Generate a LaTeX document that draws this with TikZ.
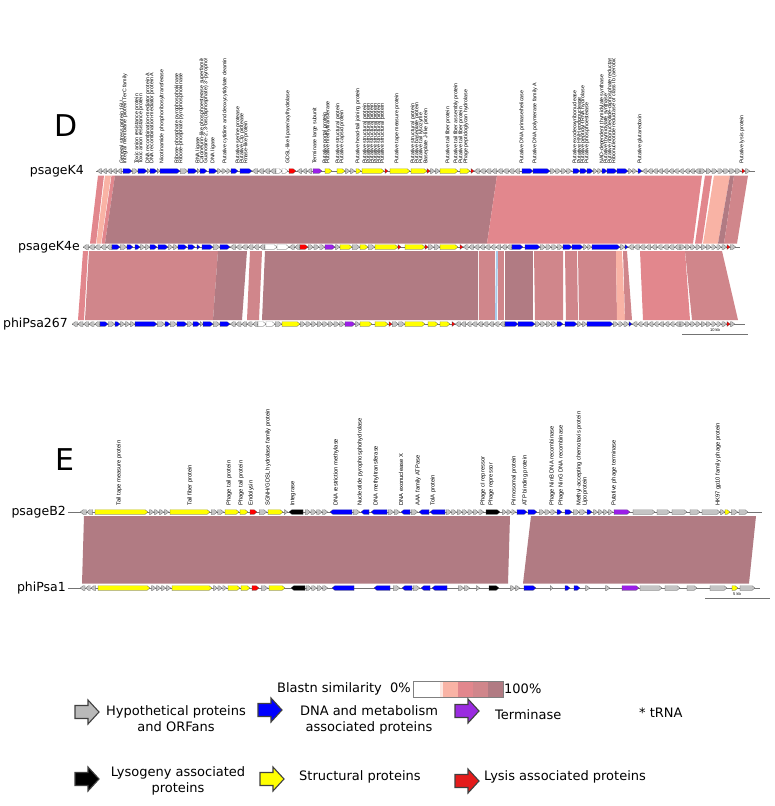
\documentclass[tikz,border=0pt]{standalone}
\usepackage{fontspec}
\setmainfont{DejaVu Sans}
\newfontfamily\genefont{Liberation Sans}
\usetikzlibrary{arrows.meta, positioning, calc}

\definecolor{GeneGrey}{HTML}{C4C4C4}
\definecolor{GeneBlue}{HTML}{0000FF}
\definecolor{GeneYellow}{HTML}{FFFF00}
\definecolor{GeneRed}{HTML}{FF0000}
\definecolor{GenePurple}{HTML}{9B1FE8}
\definecolor{GeneBlack}{HTML}{000000}
\definecolor{SimDark}{HTML}{B17B83}
\definecolor{SimRose}{HTML}{D0868B}
\definecolor{SimRed}{HTML}{E2878D}
\definecolor{SimSalmon}{HTML}{F9B3A5}
\definecolor{SimPale}{HTML}{FDE6E0}
\definecolor{SimBlue}{HTML}{A9CBEA}
\definecolor{LegGrey}{HTML}{B9B9B9}
\definecolor{LegPurple}{HTML}{9A2BE0}
\definecolor{LegRed}{HTML}{E41B1B}

\tikzset{
    genebox/.style={draw=black!70, line width=0.2pt},
    genelabel/.style={rotate=90, anchor=west, inner sep=0pt,
                      font=\genefont\fontsize{5.3}{6}\selectfont},
    genelabelE/.style={genelabel, font=\genefont\fontsize{5.8}{6}\selectfont},
    trackline/.style={draw=black!55, line width=0.4pt},
    tracklabel/.style={anchor=east, inner sep=0pt, font=\fontsize{12.5}{14}\selectfont},
    panelletter/.style={inner sep=0pt, font=\fontsize{30}{32}\selectfont},
    legendtext/.style={inner sep=0pt, align=center, font=\fontsize{13}{16}\selectfont},
    scaletext/.style={inner sep=0pt, font=\genefont\fontsize{4}{4}\selectfont}
}

% one gene arrow: start, end, track y, fill, r/l
\newcommand{\gene}[5]{%
    \if#5l
        \filldraw[genebox, fill=#4] ({#2},{#3-2.4}) -- ({min(#2,#1+3)},{#3-2.4}) -- ({#1},{#3})
            -- ({min(#2,#1+3)},{#3+2.4}) -- ({#2},{#3+2.4}) -- cycle;
    \else
        \filldraw[genebox, fill=#4] ({#1},{#3-2.4}) -- ({max(#1,#2-3)},{#3-2.4}) -- ({#2},{#3})
            -- ({max(#1,#2-3)},{#3+2.4}) -- ({#1},{#3+2.4}) -- cycle;
    \fi}

% run of small grey ORFs between two x values
\newcommand{\greyrun}[4]{%
    \pgfmathtruncatemacro{\nsmall}{max(1,round((#2-#1)/5.5))}%
    \pgfmathsetmacro{\wsmall}{(#2-#1)/\nsmall}%
    \foreach \k in {1,...,\nsmall}{%
        \gene{#1+(\k-1)*\wsmall+0.3}{#1+\k*\wsmall-0.3}{#3}{GeneGrey}{#4}}}

% legend block arrow: left x, centre y, fill
\newcommand{\legarrow}[3]{%
    \filldraw[draw=black!75, line width=1.1pt, fill=#3]
        ({#1},{#2-6.5}) -- ({#1+13},{#2-6.5}) -- ({#1+13},{#2-12}) -- ({#1+24},{#2})
        -- ({#1+13},{#2+12}) -- ({#1+13},{#2+6.5}) -- ({#1},{#2+6.5}) -- cycle;}

\begin{document}
\begin{tikzpicture}[x=1pt, y=-1pt]
    \useasboundingbox (0,0) rectangle (774,806);

    %%%%%%%%%%%%%%%% Panel D %%%%%%%%%%%%%%%%
    \node[panelletter] (letD) at (66,126) {D};

    % blastn bands psageK4 -> psageK4e
    \foreach \tl/\tr/\br/\bl/\c in {98/104/96/90/SimRed, 105/111/101/96.5/SimSalmon,
        111.5/115/105/101.5/SimRed, 115/497/487/105/SimDark, 497/702/693/487/SimRed,
        705/712/702/695/SimRed, 714/730/718/703/SimSalmon, 730/734/724/718/SimDark,
        734/748/737/724/SimRose}
        \fill[\c] (\tl,175.5) -- (\tr,175.5) -- (\br,243.5) -- (\bl,243.5) -- cycle;

    % blastn bands psageK4e -> phiPsa267
    \foreach \tl/\tr/\br/\bl/\c in {83/88/84/78/SimRed, 89/218/213/85/SimRose,
        218/247/242/213/SimDark, 250/262/259/247/SimRose, 265/478/478/262/SimDark,
        479/495/495/479/SimRose, 496/498/497/495/SimBlue, 498/504/504/498/SimRose,
        505/533/533/505/SimDark, 534/563/563/535/SimRose, 565/577/578/566/SimRose,
        578/616/617/579/SimRose, 616/622/625/617/SimSalmon, 623/627/632/625/SimRose,
        640/685/690/643/SimRed, 685/722/738/692/SimRose}
        \fill[\c] (\tl,251) -- (\tr,251) -- (\br,320) -- (\bl,320) -- cycle;

    % psageK4
    \node[tracklabel] (nK4) at (84,171) {psageK4};
    \draw[trackline] (96,171) -- (755,171);
    \foreach \a/\b/\d in {97/122/l, 132/138/r, 147/150/r, 157/160/r, 180/188/r, 197/200/r,
        217/231/r, 252/276/l, 297/312/l, 345/355/r, 430/440/r, 474/520/l, 550/572/r,
        593/602/r, 628/637/r, 642/700/l, 700/741/r, 745/750/r}
        \greyrun{\a}{\b}{171}{\d};
    \foreach \a/\b/\c/\d in {123/132/GeneBlue/r, 138/147/GeneBlue/r, 150/157/GeneBlue/r,
        160/180/GeneBlue/r, 188/197/GeneBlue/r, 200/207/GeneBlue/r, 209/217/GeneBlue/r,
        231/238/GeneBlue/r, 240/252/GeneBlue/r, 276/282/white/r, 282/288/white/r,
        289/296/GeneRed/r, 313/322/GenePurple/r, 325/332/GeneYellow/r, 337/345/GeneYellow/r,
        356/361/GeneYellow/r, 362/384/GeneYellow/r, 385/388/GeneRed/r, 390/410/GeneYellow/r,
        411/427/GeneYellow/r, 427/430/GeneRed/r, 440/458/GeneYellow/r, 460/470/GeneYellow/r,
        471/474/GeneRed/r, 522/533/GeneBlue/r, 533/550/GeneBlue/r, 573/580/GeneBlue/r,
        580/587/GeneBlue/r, 587/593/GeneBlue/r, 602/607/GeneBlue/r, 607/617/GeneBlue/r,
        617/628/GeneBlue/r, 638/642/GeneBlue/r, 742/745/GeneRed/r}
        \gene{\a}{\b}{171}{\c}{\d};

    % psageK4e
    \node[tracklabel] (nK4e) at (80,247) {psageK4e};
    \draw[trackline] (83,247) -- (740,247);
    \foreach \a/\b/\d in {83/112/l, 120/127/r, 140/150/r, 168/178/r, 213/220/r, 230/265/l,
        289/300/l, 308/325/r, 335/340/r, 352/360/r, 368/375/r, 428/440/r, 463/512/l,
        540/563/r, 583/592/r, 620/625/r, 628/680/l, 680/727/r, 730/736/r}
        \greyrun{\a}{\b}{247}{\d};
    \foreach \a/\b/\c/\d in {112/120/GeneBlue/r, 127/133/GeneBlue/r, 135/140/GeneBlue/r,
        150/157/GeneBlue/r, 158/168/GeneBlue/r, 178/187/GeneBlue/r, 188/195/GeneBlue/r,
        197/200/GeneBlue/r, 202/213/GeneBlue/r, 220/230/GeneBlue/r, 265/277/white/r,
        277/289/white/r, 300/308/GeneRed/r, 325/335/GenePurple/r, 340/352/GeneYellow/r,
        360/368/GeneYellow/r, 375/398/GeneYellow/r, 398/401/GeneRed/r, 405/425/GeneYellow/r,
        425/428/GeneRed/r, 440/458/GeneYellow/r, 460/463/GeneRed/r, 512/523/GeneBlue/r,
        525/540/GeneBlue/r, 563/572/GeneBlue/r, 572/583/GeneBlue/r, 592/620/GeneBlue/r,
        625/628/GeneBlue/r, 727/730/GeneRed/r}
        \gene{\a}{\b}{247}{\c}{\d};

    % phiPsa267
    \node[tracklabel] (nP267) at (68,324) {phiPsa267};
    \draw[trackline] (72,324) -- (745,324);
    \foreach \a/\b/\d in {72/100/l, 108/115/r, 120/135/r, 157/165/r, 170/177/r, 187/193/r,
        200/203/r, 213/220/r, 230/258/l, 275/282/r, 300/345/r, 355/360/r, 392/405/r,
        455/505/l, 535/557/r, 577/587/r, 613/629/r, 632/680/l, 680/727/r, 730/735/r}
        \greyrun{\a}{\b}{324}{\d};
    \foreach \a/\b/\c/\d in {100/108/GeneBlue/r, 115/120/GeneBlue/r, 135/157/GeneBlue/r,
        165/170/GeneBlue/r, 177/187/GeneBlue/r, 193/200/GeneBlue/r, 203/213/GeneBlue/r,
        220/230/GeneBlue/r, 258/266/white/r, 266/275/white/r, 282/300/GeneYellow/r,
        345/355/GenePurple/r, 360/372/GeneYellow/r, 375/388/GeneYellow/r, 389/392/GeneRed/r,
        405/425/GeneYellow/r, 428/438/GeneYellow/r, 440/450/GeneYellow/r, 452/455/GeneRed/r,
        505/518/GeneBlue/r, 518/535/GeneBlue/r, 557/563/GeneBlue/r, 565/577/GeneBlue/r,
        587/613/GeneBlue/r, 629/632/GeneBlue/r, 727/730/GeneRed/r}
        \gene{\a}{\b}{324}{\c}{\d};

    % scale bar D
    \draw[trackline] (682,334) -- (748,334);
    \node[scaletext] (scD) at (715,330) {10 kb};

    % gene names D
    \begin{scope}
        \clip (0,58) rectangle (774,168);
        \foreach \x/\t [count=\n] in {122/General stress protein 16U,
            125/Integral membrane protein TerC family, 137/Toxic anion resistance protein,
            141/Toxic anion resistance protein, 148/DNA recombination-mediator protein A,
            152/DNA recombination-mediator protein A, 162/Nicotinamide phosphoribosyltransferase,
            177/Ribose-phosphate pyrophosphokinase, 181/Ribose-phosphate pyrophosphokinase,
            198/RNA ligase, 202/Calcineurin-like phosphoesterase superfamily domain protein,
            206/{Guanosine-2',3'-bis(diphosphate) 3'-pyrophosphohydrolase},
            213/DNA ligase, 225/Putative cytidine and deoxycytidylate deaminase,
            238/Putative serine protease, 242/Putative Clp protease, 246/Rnase-like protein,
            288/{GDSL-like lipase/acylhydrolase}, 315/Terminase large subunit,
            325/Putative portal protein, 328/Putative methyltransferase,
            338/Putative structural protein, 342/Putative capsid protein,
            358/Putative head-tail joining protein, 365/Putative structural protein,
            368.5/Putative structural protein, 372/Putative structural protein,
            375.5/Putative structural protein, 379/Putative structural protein,
            382.5/Putative structural protein, 397/Putative tape measure protein,
            413/Putative structural protein, 417/Putative baseplate protein,
            421/Putative tail lysozyme, 426/Baseplate J-like protein,
            448/Putative tail fiber protein, 456/Putative tail fiber assembly protein,
            461/Putative tail fiber protein, 466/Phage peptidoglycan hydrolase,
            522/{Putative DNA primase/helicase}, 535/Putative DNA polymerase family A,
            575/Putative exodeoxyribonuclease, 579/Putative HNH endonuclease,
            583/Putative peptidyl-tRNA hydrolase, 587/Putative phosphoesterase,
            602/NAD-dependent thymidylate synthase, 606/Putative thymidylate synthase,
            610/Putative ribonucleotide-diphosphate reductase beta subunit,
            614/Ribonucleotide reductase of class Ib (aerobic) alpha subunit,
            640/Putative glutaredoxin, 742/Putative lysis protein}
            \node[genelabel] (dlab\n) at (\x,164) {\t};
    \end{scope}

    %%%%%%%%%%%%%%%% Panel E %%%%%%%%%%%%%%%%
    \node[panelletter] (letE) at (65,460) {E};

    % blastn bands psageB2 -> phiPsa1
    \foreach \tl/\tr/\br/\bl in {84/510/508/82, 531/756/749/523}
        \fill[SimDark] (\tl,516) -- (\tr,516) -- (\br,583.5) -- (\bl,583.5) -- cycle;

    % psageB2
    \node[tracklabel] (nB2) at (66,512) {psageB2};
    \draw[trackline] (68,512) -- (762,512);
    \foreach \a/\b/\d in {80/93/l, 149/169/r, 211/224/r, 259/267/r, 284/288/r, 305/328/r,
        353/360/r, 388/400/r, 411/418/r, 446/484/r, 502/516/r, 539/556/r, 573/586/r,
        593/613/r, 720/725/r, 731/738/r}
        \greyrun{\a}{\b}{512}{\d};
    \foreach \a/\b/\c/\d in {95/148/GeneYellow/r, 170/210/GeneYellow/r, 225/239/GeneYellow/r,
        240/248/GeneYellow/r, 250/257/GeneRed/r, 268/283/GeneYellow/r, 289/303/GeneBlack/l,
        330/352/GeneBlue/l, 361/369/GeneBlue/l, 371/387/GeneBlue/l, 401/410/GeneBlue/l,
        419/429/GeneBlue/l, 430/445/GeneBlue/l, 486/500/GeneBlack/r, 517/527/GeneBlue/r,
        528/537/GeneBlue/r, 557/562/GeneBlue/r, 565/572/GeneBlue/r, 587/592/GeneBlue/r,
        614/630/GenePurple/r, 633/655/GeneGrey/r, 657/670/GeneGrey/r, 672/687/GeneGrey/r,
        690/700/GeneGrey/r, 702/720/GeneGrey/r, 725/730/GeneYellow/r, 739/748/GeneGrey/r}
        \gene{\a}{\b}{512}{\c}{\d};

    % phiPsa1
    \node[tracklabel] (nP1) at (66,588) {phiPsa1};
    \draw[trackline] (68,588) -- (760,588);
    \foreach \a/\b/\d in {80/96/l, 151/171/r, 213/227/r, 261/268/r, 306/328/r, 393/400/r,
        413/420/r, 458/470/r, 476/480/r, 510/520/r, 550/553/r, 585/590/r, 605/610/r}
        \greyrun{\a}{\b}{588}{\d};
    \foreach \a/\b/\c/\d in {98/150/GeneYellow/r, 172/212/GeneYellow/r, 228/240/GeneYellow/r,
        241/250/GeneYellow/r, 252/259/GeneRed/r, 269/285/GeneYellow/r, 291/305/GeneBlack/l,
        332/354/GeneBlue/l, 374/390/GeneBlue/l, 402/412/GeneBlue/l, 421/430/GeneBlue/l,
        432/447/GeneBlue/l, 489/499/GeneBlack/r, 524/536/GeneBlue/r, 565/570/GeneBlue/r,
        574/580/GeneBlue/r, 622/639/GenePurple/r, 640/662/GeneGrey/r, 665/680/GeneGrey/r,
        687/697/GeneGrey/r, 710/727/GeneGrey/r, 732/738/GeneYellow/r, 740/755/GeneGrey/r}
        \gene{\a}{\b}{588}{\c}{\d};

    % scale bar E
    \draw[trackline] (705,598) -- (770,598);
    \node[scaletext] (scE) at (737,594.5) {5 kb};

    % gene names E
    \foreach \x/\t [count=\n] in {119/Tail tape measure protein, 190/Tail fiber protein,
        229/Phage tail protein, 241/Phage tail protein, 251/Endolysin,
        268/{SGNH/GDSL hydrolase family protein}, 293/Integrase,
        336/DNA restriction methylase, 360/Nucleotide pyrophosphohydrolase,
        376/DNA methyltransferase, 401/DNA exonuclease X, 418/AAA family ATPase,
        433/TolA protein, 483/Phage cI repressor, 491/Phage repressor,
        514/Primosomal protein, 525/ATP binding protein, 552/Phage NinB DNA recombinase,
        561/Phage NinG DNA recombinase, 579/Methyl-accepting chemotaxis protein,
        585/Lipoprotein, 614/Putative phage terminase, 718/HK97 gp10 family phage protein}
        \node[genelabelE] (elab\n) at (\x,506) {\t};

    %%%%%%%%%%%%%%%% Legend %%%%%%%%%%%%%%%%
    \node[legendtext, anchor=east] (legBlast) at (411,689) {Blastn similarity\ \ 0\%};
    \foreach \xa/\xb/\c in {413/440/white, 440/443/SimPale, 443/458/SimSalmon,
        458/473/SimRed, 473/488/SimRose, 488/503/SimDark}
        \fill[\c] (\xa,681) rectangle (\xb,697);
    \draw[black!50, line width=0.5pt] (413,681) rectangle (503,697);
    \node[legendtext, anchor=west] (legFull) at (504,689) {100\%};

    \legarrow{75}{712}{LegGrey}
    \node[legendtext] (legHyp) at (176,719) {Hypothetical proteins\\and ORFans};
    \legarrow{258}{710}{GeneBlue}
    \node[legendtext] (legDNA) at (369,720) {DNA and metabolism\\associated proteins};
    \legarrow{455}{711}{LegPurple}
    \node[legendtext, anchor=west] (legTerm) at (495,715) {Terminase};
    \node[legendtext, anchor=west] (legTRNA) at (639,713) {* tRNA};

    \legarrow{75}{779}{black}
    \node[legendtext] (legLyso) at (178,781) {Lysogeny associated\\proteins};
    \legarrow{260}{779}{GeneYellow}
    \node[legendtext, anchor=west] (legStruct) at (299,777) {Structural proteins};
    \legarrow{455}{781}{LegRed}
    \node[legendtext, anchor=west] (legLysis) at (484,777) {Lysis associated proteins};
\end{tikzpicture}
\end{document}
